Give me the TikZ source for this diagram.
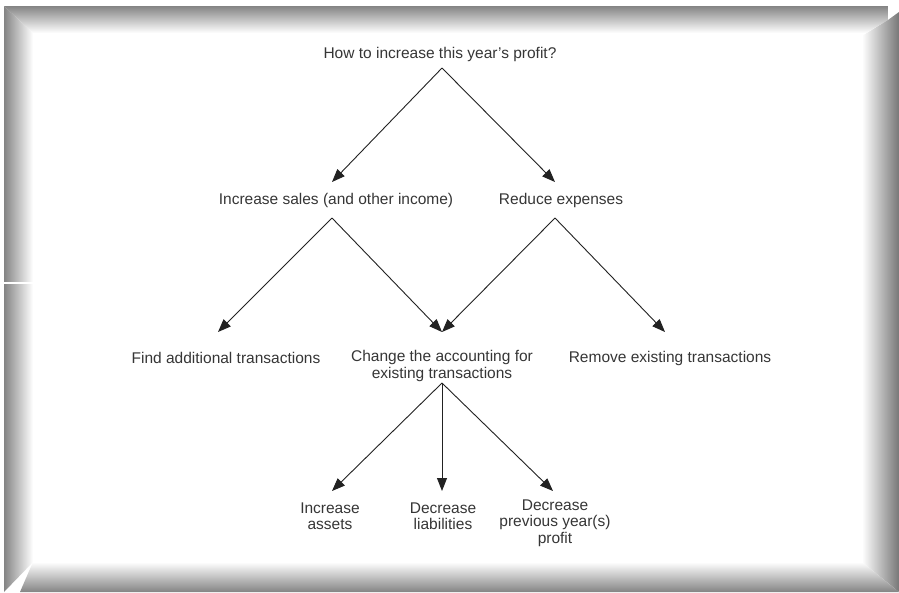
\documentclass[tikz,border=0pt]{standalone}
\usepackage{fontspec}
\setmainfont{Liberation Sans}
\usetikzlibrary{arrows.meta,calc}
\definecolor{txt}{HTML}{363636}
\definecolor{ln}{HTML}{222222}
\definecolor{fr}{HTML}{848484}
\begin{document}
\begin{tikzpicture}[x=1pt,y=-1pt,
  lbl/.style={inner sep=0pt,align=center,text=txt,font=\fontsize{15.5}{16.5}\selectfont},
  arr/.style={draw=ln,line width=0.9pt,-{Triangle[length=13pt,width=10pt]}}]
\useasboundingbox (0,0) rectangle (899,592);
\fill[white] (0,0) rectangle (899,592);
% bevelled frame
\shade[left color=fr,right color=white] (4,6) -- (33,33) -- (33,562) -- (4,592) -- cycle;
\shade[top color=fr,bottom color=white] (4,6) -- (888,6) -- (888,20) -- (866,33) -- (33,33) -- cycle;
\shade[left color=white,right color=fr!90!black] (862,36) -- (888,20) -- (899,12) -- (899,592) -- (862,562) -- cycle;
\shade[top color=white,bottom color=fr] (33,562) -- (862,562) -- (899,592) -- (20,592) -- cycle;
\draw[white,line width=1.5pt] (4,283) -- (33,283);
% nodes
\node[lbl] (q) at (440,54) {How to increase this year's profit?};
\node[lbl] (sales) at (336,200) {Increase sales (and other income)};
\node[lbl] (reduce) at (561,200) {Reduce expenses};
\node[lbl] (find) at (226,358) {Find additional transactions};
\node[lbl] (change) at (442,366) {Change the accounting for\\existing transactions};
\node[lbl] (remove) at (670,358) {Remove existing transactions};
\node[lbl] (assets) at (330,516) {Increase\\assets};
\node[lbl] (liab) at (443,516) {Decrease\\liabilities};
\node[lbl] (prev) at (555,523) {Decrease\\previous year(s)\\profit};
% connectors
\draw[arr] ($(q.center)+(2,14)$) -- ($(sales.center)+(-4,-18)$);
\draw[arr] ($(q.center)+(2,14)$) -- ($(reduce.center)+(-6,-18)$);
\draw[arr] ($(sales.center)+(-4,18)$) -- ($(find.center)+(-8,-26)$);
\draw[arr] ($(sales.center)+(-4,18)$) -- ($(change.center)+(0,-34)$);
\draw[arr] ($(reduce.center)+(-6,18)$) -- ($(change.center)+(0,-34)$);
\draw[arr] ($(reduce.center)+(-6,18)$) -- ($(remove.center)+(-5,-26)$);
\draw[arr] ($(change.center)+(0,17)$) -- ($(assets.center)+(2,-25)$);
\draw[arr] ($(change.center)+(0,17)$) -- ($(liab.center)+(-1,-25)$);
\draw[arr] ($(change.center)+(0,17)$) -- ($(prev.center)+(-2,-32)$);
\end{tikzpicture}
\end{document}
